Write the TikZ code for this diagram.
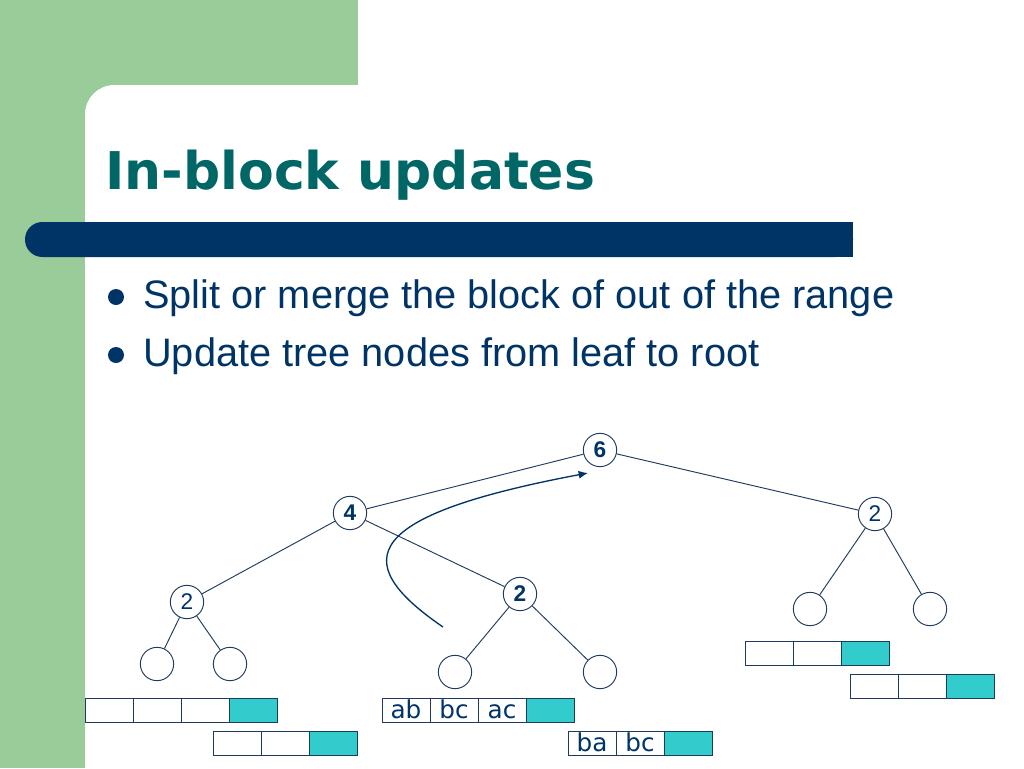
\documentclass[tikz,border=0pt]{standalone}
\usepackage{fontspec}
\setmainfont{Liberation Sans}
\newfontfamily\titlefont{DejaVu Sans}
\usepackage{xcolor}
\usetikzlibrary{arrows.meta, positioning}

\definecolor{slidegreen}{HTML}{99CC99}
\definecolor{slidenavy}{HTML}{003366}
\definecolor{titleteal}{HTML}{006666}
\definecolor{treeline}{HTML}{1F3A5F}
\definecolor{cellteal}{HTML}{33CCCC}

\begin{document}
\begin{tikzpicture}[
		x=0.75pt, y=-0.75pt,
		every node/.style={font=\rmfamily},
		treenode/.style={circle, draw=treeline, line width=0.7pt, minimum size=25pt, inner sep=0pt, text=slidenavy, font=\fontsize{17}{17}\selectfont},
		boldnode/.style={treenode, font=\fontsize{17}{17}\selectfont\bfseries},
		edge/.style={draw=treeline, line width=0.7pt},
		cell/.style={rectangle, draw=treeline, line width=0.7pt, minimum width=36pt, minimum height=18pt, inner sep=0pt, outer sep=0pt, text height=13pt, text depth=1pt, text=slidenavy, font=\titlefont\fontsize{18.5}{18.5}\selectfont},
		fullcell/.style={cell, fill=cellteal},
		arrow/.style={-{Latex[length=7pt, width=6pt]}, draw=slidenavy, line width=1pt}
		]
		\useasboundingbox (0,0) rectangle (1024,768);
		
		% Background
		\fill[slidegreen] (0,0) rectangle (358,768);
		\fill[white, rounded corners=22pt] (85,85) rectangle (1100,900);
		\fill[white] (358,0) rectangle (1024,85);
		\fill[slidenavy, rounded corners=13pt] (25,222) rectangle (853,257);
		\fill[slidenavy] (70,222) rectangle (853,257);
		
		% Title and bullets
		\node[anchor=base west, text=titleteal, font=\titlefont\fontsize{39}{39}\selectfont\bfseries, inner sep=0pt] (title) at (105,189) {In-block updates};
		\fill[slidenavy] (116,297) circle[radius=6pt];
		\fill[slidenavy] (116,355) circle[radius=6pt];
		\node[anchor=base west, text=slidenavy, font=\fontsize{29.8}{30}\selectfont, inner sep=0pt] (item1) at (143,308) {Split or merge the block of out of the range};
		\node[anchor=base west, text=slidenavy, font=\fontsize{29.8}{30}\selectfont, inner sep=0pt] (item2) at (143,366) {Update tree nodes from leaf to root};
		
		% Tree nodes
		\node[boldnode] (root) at (600,450) {6};
		\node[boldnode] (left) at (350,513) {4};
		\node[treenode] (right) at (875,514) {2};
		\node[treenode] (leftleft) at (187,602) {2};
		\node[boldnode] (leftright) at (520,594) {2};
		\node[treenode] (leaf1) at (157,664) {};
		\node[treenode] (leaf2) at (230,664) {};
		\node[treenode] (leaf3) at (455,672) {};
		\node[treenode] (leaf4) at (600,672) {};
		\node[treenode] (leaf5) at (810,609) {};
		\node[treenode] (leaf6) at (930,609) {};
		
		% Tree edges
		\draw[edge] (root) -- (left);
		\draw[edge] (root) -- (right);
		\draw[edge] (left) -- (leftleft);
		\draw[edge] (left) -- (leftright);
		\draw[edge] (leftleft) -- (leaf1);
		\draw[edge] (leftleft) -- (leaf2);
		\draw[edge] (leftright) -- (leaf3);
		\draw[edge] (leftright) -- (leaf4);
		\draw[edge] (right) -- (leaf5);
		\draw[edge] (right) -- (leaf6);
		
		% Update path from leaf to root
		\coordinate (pathstart) at (443,627);
		\coordinate (pathend) at (588,473);
		\draw[arrow] (pathstart) .. controls (345,560) and (365,515) .. (pathend);
		
		% Blocks under the left subtree
		\node[cell] (lba) at (109,710) {};
		\node[cell, right=0pt of lba] (lbb) {};
		\node[cell, right=0pt of lbb] (lbc) {};
		\node[fullcell, right=0pt of lbc] (lbd) {};
		\node[cell] (lca) at (237,743) {};
		\node[cell, right=0pt of lca] (lcb) {};
		\node[fullcell, right=0pt of lcb] (lcc) {};
		
		% Blocks under the middle subtree
		\node[cell] (mba) at (406,710) {ab};
		\node[cell, right=0pt of mba] (mbb) {bc};
		\node[cell, right=0pt of mbb] (mbc) {ac};
		\node[fullcell, right=0pt of mbc] (mbd) {};
		\node[cell] (mca) at (592,743) {ba};
		\node[cell, right=0pt of mca] (mcb) {bc};
		\node[fullcell, right=0pt of mcb] (mcc) {};
		
		% Blocks under the right subtree
		\node[cell] (rba) at (769,653) {};
		\node[cell, right=0pt of rba] (rbb) {};
		\node[fullcell, right=0pt of rbb] (rbc) {};
		\node[cell] (rca) at (874,686) {};
		\node[cell, right=0pt of rca] (rcb) {};
		\node[fullcell, right=0pt of rcb] (rcc) {};
		
	\end{tikzpicture}
\end{document}
